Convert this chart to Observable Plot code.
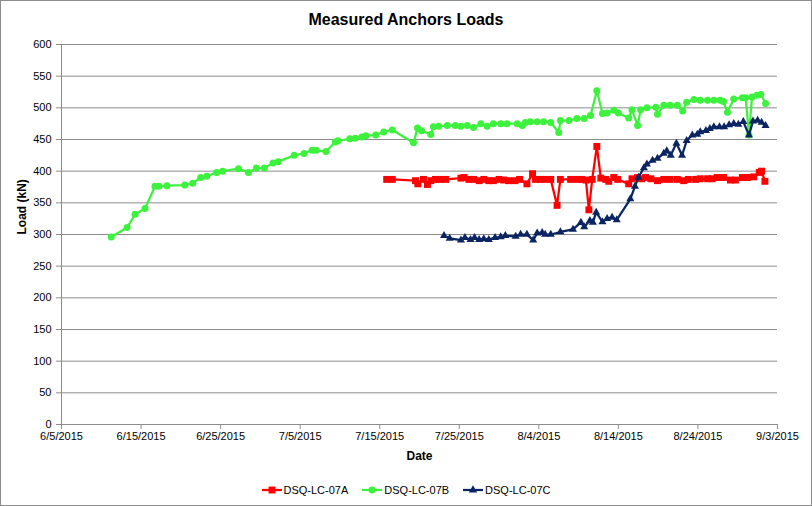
<!DOCTYPE html>
<html>
<head>
<meta charset="utf-8">
<script src="https://cdn.jsdelivr.net/npm/d3@7"></script>
<script src="https://cdn.jsdelivr.net/npm/@observablehq/plot@0.6"></script>
<style>
  html, body { margin: 0; padding: 0; background: #fff; }
  #chart { width: 812px; height: 506px; box-sizing: border-box; border: 1px solid #8c8c8c; background: #fff;
           font-family: "Liberation Sans", Arial, sans-serif; color: #000; overflow: hidden; }
  #title { height: 35px; line-height: 38px; text-align: center; font-weight: bold; font-size: 16px; }
  #legend { display: flex; justify-content: center; align-items: center; font-size: 11px; height: 26px; margin-top: 0px; }
  .item { display: flex; align-items: center; margin: 0 7px; }
  .item svg { margin-right: 2px; }
</style>
</head>
<body>
<div id="chart">
  <div id="title">Measured Anchors Loads</div>
  <div id="plot"></div>
  <div id="legend"></div>
</div>
<script>
// ---- data ----
const seriesNames = ["DSQ-LC-07A", "DSQ-LC-07B", "DSQ-LC-07C"];
const seriesColors = ["#ff0000", "#3cf23c", "#0b2462"];
const seriesSymbols = ["square", "circle", "triangle"];

const datesA = ["2015-07-15T21","2015-07-16T14","2015-07-19T12","2015-07-19T19","2015-07-20T12","2015-07-21T00","2015-07-21T10","2015-07-22T00","2015-07-22T14","2015-07-23T07","2015-07-25T05","2015-07-25T14","2015-07-26T05","2015-07-26T19","2015-07-27T12","2015-07-28T02","2015-07-28T17","2015-07-29T07","2015-07-30T00","2015-07-30T14","2015-07-31T05","2015-08-01T00","2015-08-01T14","2015-08-02T12","2015-08-03T05","2015-08-03T14","2015-08-04T05","2015-08-04T19","2015-08-05T12","2015-08-06T07","2015-08-06T17","2015-08-08T00","2015-08-08T19","2015-08-09T10","2015-08-09T22","2015-08-10T07","2015-08-10T17","2015-08-11T07","2015-08-11T19","2015-08-12T10","2015-08-12T19","2015-08-13T10","2015-08-13T22","2015-08-15T07","2015-08-15T17","2015-08-16T10","2015-08-16T22","2015-08-17T10","2015-08-18T02","2015-08-18T22","2015-08-19T17","2015-08-20T12","2015-08-21T10","2015-08-22T05","2015-08-22T19","2015-08-23T17","2015-08-24T07","2015-08-25T05","2015-08-25T19","2015-08-26T10","2015-08-27T05","2015-08-28T02","2015-08-28T17","2015-08-29T14","2015-08-30T05","2015-08-31T00","2015-08-31T17","2015-09-01T00","2015-09-01T10"];
const loadsA = [387,387,385,380,387,379,385,387,387,387,389,390,387,387,385,387,385,385,387,386,385,385,387,380,396,387,387,387,387,346,387,387,387,387,386,339,387,439,389,387,384,390,387,380,388,390,388,390,388,385,387,387,387,385,387,387,388,388,388,390,390,386,386,390,390,391,398,400,384];

const datesB = ["2015-06-11T06","2015-06-13T06","2015-06-14T06","2015-06-15T12","2015-06-16T18","2015-06-17T06","2015-06-18T06","2015-06-20T12","2015-06-21T12","2015-06-22T12","2015-06-23T06","2015-06-24T12","2015-06-25T06","2015-06-27T06","2015-06-28T12","2015-06-29T12","2015-06-30T12","2015-07-01T14","2015-07-02T06","2015-07-04T06","2015-07-05T12","2015-07-06T12","2015-07-07T00","2015-07-08T06","2015-07-09T10","2015-07-09T18","2015-07-11T06","2015-07-11T22","2015-07-12T18","2015-07-13T06","2015-07-14T12","2015-07-15T12","2015-07-16T14","2015-07-19T06","2015-07-19T18","2015-07-20T06","2015-07-21T10","2015-07-21T18","2015-07-22T10","2015-07-23T12","2015-07-24T12","2015-07-25T05","2015-07-26T00","2015-07-26T19","2015-07-27T17","2015-07-28T12","2015-07-29T07","2015-07-30T05","2015-07-31T00","2015-08-01T07","2015-08-01T22","2015-08-02T07","2015-08-02T22","2015-08-03T19","2015-08-04T14","2015-08-05T12","2015-08-06T12","2015-08-06T17","2015-08-07T19","2015-08-08T19","2015-08-09T17","2015-08-10T12","2015-08-11T07","2015-08-12T00","2015-08-12T14","2015-08-13T10","2015-08-14T00","2015-08-15T07","2015-08-15T17","2015-08-16T10","2015-08-16T19","2015-08-17T14","2015-08-18T17","2015-08-18T22","2015-08-19T17","2015-08-20T12","2015-08-21T10","2015-08-22T02","2015-08-22T14","2015-08-23T12","2015-08-24T07","2015-08-25T05","2015-08-26T00","2015-08-26T19","2015-08-27T05","2015-08-27T17","2015-08-28T12","2015-08-29T14","2015-08-30T00","2015-08-30T10","2015-08-30T19","2015-08-31T10","2015-08-31T22","2015-09-01T12"];
const loadsB = [296,311,332,341,376,376,377,378,381,390,392,398,400,404,398,405,405,413,415,425,428,433,433,431,446,448,451,452,454,456,457,462,465,445,468,464,458,470,471,472,472,471,472,469,475,471,475,475,475,475,472,477,478,478,478,477,461,480,480,483,483,488,527,491,492,496,492,484,497,472,497,500,501,490,504,504,504,495,509,513,512,512,512,512,510,493,514,516,516,457,517,520,521,507];

const datesC = ["2015-07-23T02","2015-07-23T19","2015-07-25T05","2015-07-25T17","2015-07-26T10","2015-07-26T22","2015-07-27T12","2015-07-28T02","2015-07-28T17","2015-07-29T12","2015-07-30T05","2015-07-30T19","2015-08-01T02","2015-08-01T17","2015-08-02T12","2015-08-03T07","2015-08-03T19","2015-08-04T10","2015-08-04T19","2015-08-05T12","2015-08-06T17","2015-08-08T07","2015-08-09T07","2015-08-09T17","2015-08-10T10","2015-08-10T19","2015-08-11T05","2015-08-12T00","2015-08-12T14","2015-08-13T05","2015-08-13T19","2015-08-15T12","2015-08-16T02","2015-08-16T12","2015-08-17T05","2015-08-17T14","2015-08-18T07","2015-08-18T22","2015-08-19T17","2015-08-20T02","2015-08-20T14","2015-08-21T07","2015-08-22T00","2015-08-22T14","2015-08-23T07","2015-08-23T22","2015-08-24T07","2015-08-25T00","2015-08-25T12","2015-08-26T00","2015-08-26T17","2015-08-27T07","2015-08-27T22","2015-08-28T12","2015-08-29T02","2015-08-29T17","2015-08-30T10","2015-08-30T22","2015-08-31T12","2015-09-01T00","2015-09-01T12"];
const loadsC = [298,294,291,295,292,295,292,293,292,295,296,298,297,300,300,291,302,303,300,300,304,308,319,312,322,319,335,320,325,327,323,356,376,390,405,411,417,420,428,432,425,444,425,448,457,458,462,464,467,470,470,470,473,475,474,478,457,479,480,477,472];

const xTickDates = ["2015-06-05","2015-06-15","2015-06-25","2015-07-05","2015-07-15","2015-07-25","2015-08-04","2015-08-14","2015-08-24","2015-09-03"];
const yTickValues = [0,50,100,150,200,250,300,350,400,450,500,550,600];

// ---- build ----
const parseT = d3.utcParse("%Y-%m-%dT%H");
const parseD = d3.utcParse("%Y-%m-%d");
const seriesDates = [datesA, datesB, datesC];
const seriesLoads = [loadsA, loadsB, loadsC];
const rows = [];
seriesNames.forEach((name, i) => {
  seriesDates[i].forEach((d, j) => rows.push({series: name, date: parseT(d), load: seriesLoads[i][j]}));
});
const xTicks = xTickDates.map(parseD);
const grid = "#8c8c8c";

const marks = [
  Plot.gridY(yTickValues, {stroke: grid, strokeOpacity: 1, strokeWidth: 1}),
  Plot.ruleX([xTicks[0]], {stroke: grid, strokeWidth: 1}),
  Plot.ruleY([0], {stroke: grid, strokeWidth: 1}),
  Plot.axisX({ticks: xTicks, tickFormat: d3.utcFormat("%-m/%-d/%Y"), tickSize: 5, tickPadding: 3, stroke: grid, label: null, fontSize: 11}),
  Plot.axisY({ticks: yTickValues, tickSize: 5, tickPadding: 5, stroke: grid, label: null, fontSize: 11}),
  Plot.text(["Date"], {frameAnchor: "bottom", dy: 35, fontWeight: "bold", fontSize: 12}),
  Plot.text(["Load (kN)"], {frameAnchor: "left", dx: -39, rotate: -90, fontWeight: "bold", fontSize: 12})
];
seriesNames.forEach((name, i) => {
  const data = rows.filter(r => r.series === name);
  marks.push(Plot.line(data, {x: "date", y: "load", stroke: seriesColors[i], strokeWidth: 2.25}));
  marks.push(Plot.dot(data, {x: "date", y: "load", symbol: () => seriesSymbols[i], fill: seriesColors[i], stroke: "none",
    r: [3.9, 3.5, 3.0][i]}));
});

const chart = Plot.plot({
  width: 810,
  height: 441,
  marginTop: 8,
  marginLeft: 60,
  marginRight: 34,
  marginBottom: 53,
  style: {fontFamily: '"Liberation Sans", Arial, sans-serif', fontSize: "11px", color: "#000", background: "#fff", overflow: "visible"},
  x: {type: "utc", domain: [xTicks[0], xTicks[xTicks.length - 1]]},
  y: {domain: [0, 600]},
  symbol: {type: "identity"},
  marks
});
document.getElementById("plot").appendChild(chart);

// legend
const legend = document.getElementById("legend");
seriesNames.forEach((name, i) => {
  const item = document.createElement("div");
  item.className = "item";
  const sym = d3.symbol(
    [d3.symbolSquare, d3.symbolCircle, d3.symbolTriangle][i],
    [48, 38, 30][i]
  )();
  item.innerHTML = `<svg width="20" height="10"><line x1="0" x2="20" y1="5" y2="5" stroke="${seriesColors[i]}" stroke-width="2.25"/><path transform="translate(10,5)" d="${sym}" fill="${seriesColors[i]}"/></svg><span>${name}</span>`;
  legend.appendChild(item);
});
</script>
</body>
</html>
